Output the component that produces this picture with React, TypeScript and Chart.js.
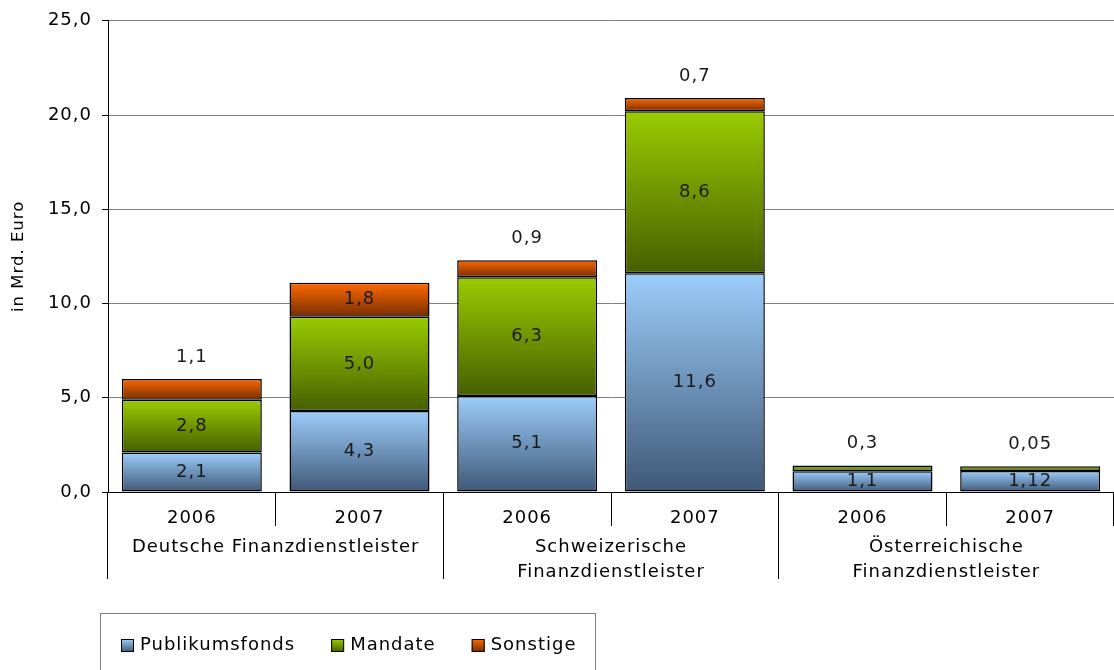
import React, { useEffect, useRef } from "react";
import { Chart, registerables } from "chart.js";

Chart.register(...registerables);

const FONT = "'DejaVu Sans', Verdana, sans-serif";

const years = ["2006", "2007", "2006", "2007", "2006", "2007"];
const groups = [
  ["Deutsche Finanzdienstleister"],
  ["Schweizerische", "Finanzdienstleister"],
  ["Österreichische", "Finanzdienstleister"],
];
const seriesNames = ["Publikumsfonds", "Mandate", "Sonstige"];
const publikumsfonds = [2.1, 4.3, 5.1, 11.6, 1.1, 1.12];
const mandate = [2.8, 5.0, 6.3, 8.6, 0.3, 0.25];
const sonstige: (number | null)[] = [1.1, 1.8, 0.9, 0.7, null, null];

const publikumsLabels = ["2,1", "4,3", "5,1", "11,6", "1,1", "1,12"];
const mandateLabels = ["2,8", "5,0", "6,3", "8,6", "", ""];
const sonstigeLabels = ["", "1,8", "", "", "", ""];
const topLabels = ["1,1", "", "0,9", "0,7", "0,3", "0,05"];

const yMin = 0;
const yMax = 25;
const yStep = 5;

const gradientStops = [
  ["#9ccdfb", "#3f5876"],
  ["#9acc00", "#465f00"],
  ["#ff6a00", "#762d00"],
];

const allSeries = [publikumsfonds, mandate, sonstige];
const labelSets = [publikumsLabels, mandateLabels, sonstigeLabels];

function segmentFill(dsIndex: number) {
  return (ctx: any) => {
    const chart = ctx.chart;
    const y = chart.scales?.y;
    const stops = gradientStops[dsIndex];
    if (!y || ctx.type !== "data") return stops[0];
    const i = ctx.dataIndex;
    let base = 0;
    for (let k = 0; k < dsIndex; k++) base += (allSeries[k][i] as number) ?? 0;
    const top = base + ((allSeries[dsIndex][i] as number) ?? 0);
    const p0 = y.getPixelForValue(top);
    const p1 = y.getPixelForValue(base);
    if (!isFinite(p0) || !isFinite(p1) || p0 === p1) return stops[0];
    const g = chart.ctx.createLinearGradient(0, p0, 0, p1);
    g.addColorStop(0, stops[0]);
    g.addColorStop(1, stops[1]);
    return g;
  };
}

const spacingPlugin = {
  id: "letterSpacing",
  beforeUpdate(chart: any) {
    chart.ctx.letterSpacing = "1px";
  },
  beforeDraw(chart: any) {
    chart.ctx.letterSpacing = "1px";
  },
};

const labelPlugin = {
  id: "segmentLabels",
  afterDatasetsDraw(chart: any) {
    const ctx = chart.ctx;
    ctx.save();
    ctx.font = `18px ${FONT}`;
    ctx.fillStyle = "#1a1a1a";
    ctx.textAlign = "center";
    ctx.textBaseline = "middle";
    labelSets.forEach((labels, d) => {
      const meta = chart.getDatasetMeta(d);
      meta.data.forEach((el: any, i: number) => {
        const t = labels[i];
        if (!t) return;
        const { x, y, base } = el.getProps(["x", "y", "base"], true);
        ctx.fillText(t, x, (y + base) / 2);
      });
    });
    const yScale = chart.scales.y;
    const meta0 = chart.getDatasetMeta(0);
    topLabels.forEach((t, i) => {
      if (!t) return;
      let sum = 0;
      allSeries.forEach((s) => (sum += (s[i] as number) ?? 0));
      const x = meta0.data[i].x;
      ctx.fillText(t, x, yScale.getPixelForValue(sum) - 22);
    });
    ctx.restore();
  },
};

const legendPlugin = {
  id: "boxedLegend",
  afterDraw(chart: any) {
    const ctx = chart.ctx;
    ctx.save();
    ctx.strokeStyle = "#7f7f7f";
    ctx.lineWidth = 1;
    ctx.strokeRect(100.5, 613.5, 495, 80);
    ctx.font = `18px ${FONT}`;
    ctx.textBaseline = "middle";
    ctx.textAlign = "left";
    const cy = 645;
    let x = 121;
    seriesNames.forEach((name, d) => {
      const g = ctx.createLinearGradient(0, cy - 6, 0, cy + 7);
      g.addColorStop(0, gradientStops[d][0]);
      g.addColorStop(1, gradientStops[d][1]);
      ctx.fillStyle = g;
      ctx.fillRect(x, cy - 6, 13, 13);
      ctx.strokeStyle = "#000";
      ctx.lineWidth = 1;
      ctx.strokeRect(x + 0.5, cy - 5.5, 12, 12);
      ctx.fillStyle = "#000";
      ctx.fillText(name, x + 19, cy);
      x += 19 + ctx.measureText(name).width + 36;
    });
    ctx.restore();
  },
};

export default function App() {
  const ref = useRef<HTMLCanvasElement | null>(null);
  useEffect(() => {
    if (!ref.current) return;
    Chart.defaults.font.family = FONT;
    const chart = new Chart(ref.current, {
      type: "bar",
      data: {
        labels: years,
        datasets: allSeries.map((data, d) => ({
          label: seriesNames[d],
          data: data as any,
          backgroundColor: segmentFill(d),
          borderColor: "#000",
          borderWidth: 1.5,
          borderSkipped: false,
          categoryPercentage: 1,
          barPercentage: 0.835,
        })),
      },
      options: {
        responsive: true,
        maintainAspectRatio: false,
        animation: false,
        layout: { padding: { left: 0, right: 0, top: 17, bottom: 86 } },
        plugins: {
          legend: { display: false },
          tooltip: { enabled: false },
        },
        scales: {
          x: {
            type: "category",
            position: "bottom",
            weight: 0,
            stacked: true,
            offset: true,
            grid: {
              offset: true,
              drawOnChartArea: false,
              drawTicks: true,
              tickLength: 34,
              color: "#000",
            },
            border: { display: true, color: "#000", width: 1 },
            ticks: {
              font: { family: FONT, size: 18 },
              color: "#000",
              padding: -18,
              maxRotation: 0,
              autoSkip: false,
            },
            afterFit: (s: any) => {
              s.height = 34;
            },
          },
          x2: {
            type: "category",
            position: "bottom",
            weight: 1,
            labels: groups as any,
            offset: true,
            grid: {
              offset: true,
              drawOnChartArea: false,
              drawTicks: true,
              tickLength: 53,
              color: "#000",
            },
            border: { display: false },
            ticks: {
              font: { family: FONT, size: 18, lineHeight: 1.4 },
              color: "#000",
              padding: -44,
              maxRotation: 0,
              autoSkip: false,
            },
            afterFit: (s: any) => {
              s.height = 58;
            },
          },
          y: {
            stacked: true,
            min: yMin,
            max: yMax,
            ticks: {
              stepSize: yStep,
              callback: (v: any) => Number(v).toFixed(1).replace(".", ","),
              font: { family: FONT, size: 18 },
              color: "#000",
              padding: 10,
            },
            grid: { color: "#808080", tickLength: 6, tickColor: "#000" },
            border: { color: "#000", width: 1 },
            title: {
              display: true,
              text: "in Mrd. Euro",
              font: { family: FONT, size: 16.5 },
              color: "#000",
              padding: { top: 9, bottom: 0 },
            },
            afterFit: (s: any) => {
              s.width = 108;
            },
          },
        },
      },
      plugins: [spacingPlugin, labelPlugin, legendPlugin],
    });
    return () => chart.destroy();
  }, []);
  return (
    <div style={{ position: "fixed", left: 0, top: 0, width: 1114, height: 670, background: "#fff" }}>
      <canvas ref={ref} />
    </div>
  );
}
